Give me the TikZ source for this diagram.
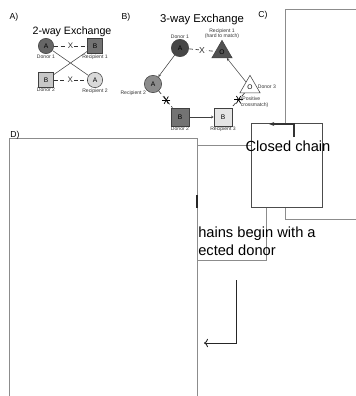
\documentclass[tikz,border=0pt]{standalone}
\usepackage{fontspec}
\setmainfont{Liberation Sans}
\usetikzlibrary{shapes.geometric}
\usetikzlibrary{arrows.meta,positioning}

\newcommand{\crossmark}[1]{%
  \foreach \ang in {0,60,120}
    {\draw[line width=0.55pt] (#1) ++(\ang:3.2pt) -- ++(\ang+180:6.4pt);}}

\begin{document}
\begin{tikzpicture}[x=0.75pt,y=-0.75pt,
  lbl/.style={font=\fontsize{3.8}{4.2}\selectfont,inner sep=0.4pt,text=black!80},
  ttl/.style={font=\fontsize{8}{9}\selectfont},
  tag/.style={font=\fontsize{6.5}{7}\selectfont},
  person/.style={draw=black!75,line width=0.4pt,inner sep=0pt,font=\fontsize{5}{5}\selectfont},
  smallcirc/.style={person,circle,minimum size=11.5pt},
  smallsq/.style={person,rectangle,minimum size=11pt},
  bigcirc/.style={person,circle,minimum size=13pt},
  bigsq/.style={person,rectangle,minimum size=13.5pt},
  tri/.style={person,regular polygon,regular polygon sides=3,minimum size=17.5pt},
  nomatch/.style={densely dashed,line width=0.5pt,black!80},
  give/.style={line width=0.4pt,black!75,-{Stealth[length=2pt,width=2pt]}},
  frame/.style={draw=black!45,line width=0.6pt},
  ]
\useasboundingbox (0,0) rectangle (356,396);
\clip (0,0) rectangle (356,396);

% panel A
\node[tag] (tagA) at (14,17) {A)};
\node[ttl] (titleA) at (72,32) {2-way Exchange};
\node[smallcirc,fill=black!60,label={[lbl]below:Donor 1}] (a1) at (46,46) {A};
\node[smallsq,fill=black!55,label={[lbl]below:Recipient 1}] (ar1) at (95,46) {B};
\node[smallsq,fill=black!22,label={[lbl]below:Donor 2}] (a2) at (46,80) {B};
\node[smallcirc,fill=black!15,label={[lbl]below:Recipient 2}] (ar2) at (95,80) {A};
\draw[nomatch] (a1) -- node[fill=white,inner sep=0.5pt,font=\fontsize{6}{6}\selectfont]{X} (ar1);
\draw[nomatch] (a2) -- node[fill=white,inner sep=0.5pt,font=\fontsize{6}{6}\selectfont]{X} (ar2);
\draw[line width=0.4pt,black!75] (a1) -- (ar2);
\draw[line width=0.4pt,black!75] (a2) -- (ar1);

% panel B
\node[tag] (tagB) at (126,17) {B)};
\node[ttl,font=\fontsize{8.5}{9}\selectfont] (titleB) at (202,20) {3-way Exchange};
\node[bigcirc,fill=black!72,label={[lbl]above:Donor 1}] (b1) at (180,48) {A};
\node[tri,fill=black!68,label={[lbl,align=center]above:Recipient 1\\(hard to match)}] (br1) at (222,52) {O};
\node[bigcirc,fill=black!45,label={[lbl]below left:Recipient 2}] (br2) at (153,84) {A};
\node[bigsq,fill=black!55,label={[lbl]below:Donor 2}] (b2) at (180,117) {B};
\node[bigsq,fill=black!10,label={[lbl]below:Recipient 3}] (br3) at (223,117) {B};
\node[tri,fill=white,label={[lbl]right:Donor 3}] (b3) at (250,87) {O};
\draw[nomatch] (b1) -- node[fill=white,inner sep=0.5pt,font=\fontsize{6.5}{6.5}\selectfont]{X} (br1);
\draw[nomatch] (br2) -- coordinate[pos=0.55] (m2) (b2);
\draw[nomatch] (b3) -- coordinate[pos=0.45] (m3) (br3);
\crossmark{m2}
\crossmark{m3}
\node[lbl,anchor=north west,align=left] (pos) at (240,96) {(Positive\\crossmatch)};
\draw[give] (b1) -- (br2);
\draw[give] (b2) -- (br3);
\draw[give] (b3) -- (br1);

% frames
\node[tag] (tagC) at (263,15) {C)};
\draw[frame] (150,145) rectangle (266,260);
\draw[frame] (285,9) rectangle (362,219);
\draw[frame,draw=black!70,fill=white] (251,123) rectangle (322,207);
\draw[frame,fill=white] (9,138) rectangle (197,400);
\node[tag] (tagD) at (15,135) {D)};

% texts and arrows
\node[font=\fontsize{11}{13}\selectfont,anchor=base,inner sep=0pt] (closed) at (288,151) {Closed chain};
\node[font=\fontsize{11}{13}\selectfont,anchor=base west,inner sep=0pt] (opena) at (198,237) {hains begin with a};
\node[font=\fontsize{11}{13}\selectfont,anchor=base west,inner sep=0pt] (openb) at (198,255) {ected donor};
\coordinate (c1) at (294,137);
\coordinate (c2) at (294,124);
\coordinate (c3) at (269,124);
\draw[line width=1pt,black!80,-{Stealth[length=4pt]}] (c1) -- (c2) -- (c3);
\draw[line width=0.9pt,black!85] (197,195) -- (197,208);
\coordinate (d1) at (236,280);
\coordinate (d2) at (236,343);
\coordinate (d3) at (204,343);
\draw[line width=0.7pt,black!85,-{To[length=3pt]}] (d1) -- (d2) -- (d3);
\end{tikzpicture}
\end{document}
